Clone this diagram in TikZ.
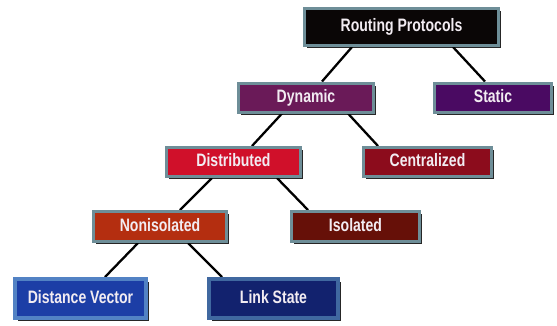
\documentclass[tikz,border=0pt]{standalone}
\usepackage{fontspec}
\newfontfamily\boxfont[FakeStretch=0.78]{Liberation Sans}
\usetikzlibrary{shadows,backgrounds}
\definecolor{bordc}{HTML}{6E8E98}
\definecolor{boxtext}{HTML}{F2ECF2}
\definecolor{cRP}{HTML}{0A0606}
\definecolor{cDyn}{HTML}{6A1A58}
\definecolor{cSta}{HTML}{4A0A62}
\definecolor{cDis}{HTML}{D0102A}
\definecolor{cCen}{HTML}{8C0C1C}
\definecolor{cNon}{HTML}{B42E10}
\definecolor{cIso}{HTML}{661008}
\definecolor{cDV}{HTML}{1C3EA6}
\definecolor{cLS}{HTML}{12226E}
\definecolor{bDV}{HTML}{5282C4}
\definecolor{bLS}{HTML}{4068A0}
\tikzset{
  rbox/.style={draw=bordc, line width=3pt, fill=#1, text=boxtext,
    font=\boxfont\bfseries\fontsize{18}{20}\selectfont, inner sep=0pt,
    text height=0.72em+2pt, text depth=0pt,
    drop shadow={shadow xshift=2.5pt, shadow yshift=-2.5pt, fill=black, opacity=0.85}},
  conn/.style={draw=black, line width=2.3pt}
}
\begin{document}
\begin{tikzpicture}[x=1pt,y=-1pt]
\useasboundingbox (0,0) rectangle (557,325);
\node[rbox=cRP, minimum width=194pt, minimum height=37pt] (rp) at (401.5,27) {Routing Protocols};
\node[rbox=cDyn, minimum width=135pt, minimum height=29pt] (dyn) at (306,97.5) {Dynamic};
\node[rbox=cSta, minimum width=117pt, minimum height=29pt] (sta) at (493,97.5) {Static};
\node[rbox=cDis, minimum width=134pt, minimum height=29pt] (dis) at (233.5,162) {Distributed};
\node[rbox=cCen, minimum width=128pt, minimum height=29pt] (cen) at (427.5,162) {Centralized};
\node[rbox=cNon, minimum width=133pt, minimum height=30pt] (non) at (160,226.5) {Nonisolated};
\node[rbox=cIso, minimum width=128pt, minimum height=30pt] (iso) at (355.5,226.5) {Isolated};
\node[rbox=cDV, draw=bDV, line width=4pt, minimum width=131pt, minimum height=39pt] (dv) at (80.5,298.5) {Distance Vector};
\node[rbox=cLS, draw=bLS, line width=4pt, minimum width=129pt, minimum height=39pt] (ls) at (273.5,298.5) {Link State};
\begin{scope}[on background layer]
\fill[white] (0,0) rectangle (557,325);
\draw[conn] ([xshift=-49.5pt]rp.south) -- ([xshift=16pt]dyn.north);
\draw[conn] ([xshift=51.5pt]rp.south) -- ([xshift=-8pt]sta.north);
\draw[conn] ([xshift=-24pt]dyn.south) -- ([xshift=18.5pt]dis.north);
\draw[conn] ([xshift=42pt]dyn.south) -- ([xshift=-49.5pt]cen.north);
\draw[conn] ([xshift=-21.5pt]dis.south) -- ([xshift=20pt]non.north);
\draw[conn] ([xshift=43.5pt]dis.south) -- ([xshift=-47.5pt]iso.north);
\draw[conn] ([xshift=-22pt]non.south) -- ([xshift=24.5pt]dv.north);
\draw[conn] ([xshift=28pt]non.south) -- ([xshift=-51.5pt]ls.north);
\end{scope}
\end{tikzpicture}
\end{document}
